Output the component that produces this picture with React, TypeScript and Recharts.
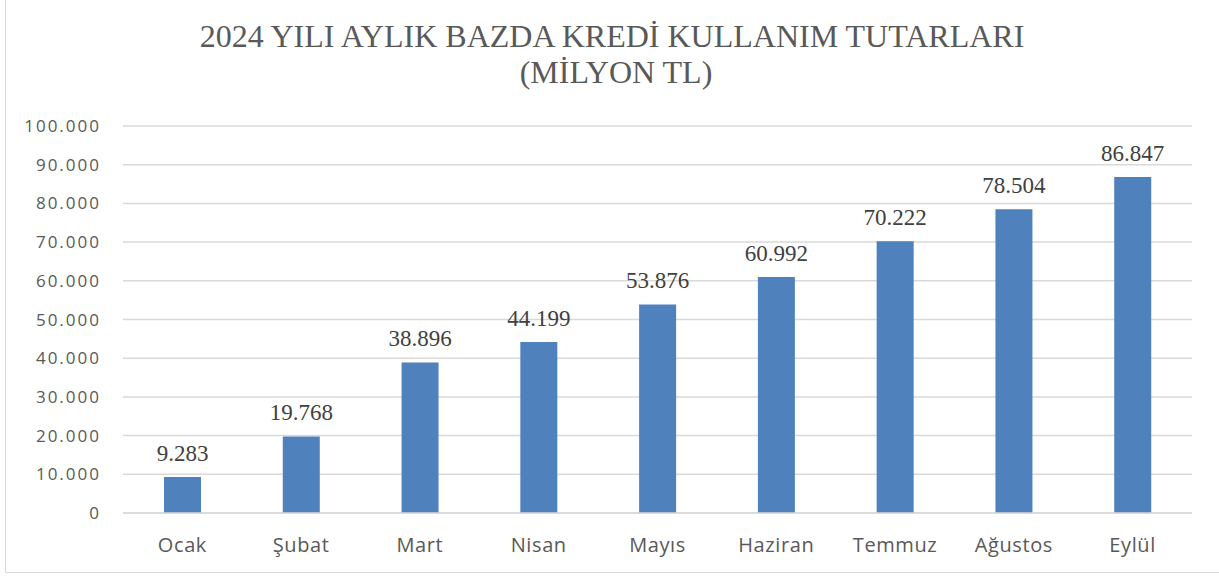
import { BarChart, Bar, XAxis, YAxis, CartesianGrid, LabelList } from 'recharts'

const months = ['Ocak', 'Şubat', 'Mart', 'Nisan', 'Mayıs', 'Haziran', 'Temmuz', 'Ağustos', 'Eylül']
const amounts = [9283, 19768, 38896, 44199, 53876, 60992, 70222, 78504, 86847]
const yTicks = [0, 10000, 20000, 30000, 40000, 50000, 60000, 70000, 80000, 90000, 100000]
const titleLines = ['2024 YILI AYLIK BAZDA KREDİ KULLANIM TUTARLARI', '(MİLYON TL)']

const data = months.map((m, i) => ({ month: m, value: amounts[i] }))

const fmt = (v: number) => String(v).replace(/\B(?=(\d{3})+(?!\d))/g, '.')

const sans = '"Open Sans", sans-serif'
const serif = '"Liberation Serif", "Times New Roman", serif'

function ValueLabel(props: any) {
  const { x, y, width, value } = props
  return (
    <text x={x + width / 2} y={y - 16} textAnchor="middle" fontFamily={serif} fontSize={23} fill="#404040">
      {fmt(value)}
    </text>
  )
}

export default function App() {
  return (
    <div style={{ position: 'absolute', left: 0, top: 0, width: 1219, height: 576, background: '#fff', overflow: 'hidden' }}>
      <div
        style={{
          position: 'absolute',
          left: 5,
          top: -2,
          width: 1222,
          height: 575,
          border: '1.5px solid #d9d9d9',
          boxSizing: 'border-box',
        }}
      />
      <svg width={1219} height={110} style={{ position: 'absolute', left: 0, top: 0 }}>
        <text x={612} y={47} textAnchor="middle" fontFamily={serif} fontSize={32} fill="#595959">
          {titleLines[0]}
        </text>
        <text x={616} y={83} textAnchor="middle" fontFamily={serif} fontSize={32} fill="#595959">
          {titleLines[1]}
        </text>
      </svg>
      <div style={{ position: 'absolute', left: 0, top: 0 }}>
        <BarChart width={1219} height={576} data={data} margin={{ top: 126, right: 27, left: 0, bottom: 33 }}>
          <CartesianGrid vertical={false} stroke="#d9d9d9" strokeWidth={1.5} />
          <XAxis
            dataKey="month"
            axisLine={{ stroke: '#d9d9d9', strokeWidth: 1.5 }}
            tickLine={false}
            height={30}
            tick={{ fontFamily: sans, fontSize: 20, fill: '#595959', letterSpacing: 0.6, dy: 17 }}
          />
          <YAxis
            width={123}
            domain={[0, 100000]}
            ticks={yTicks}
            axisLine={false}
            tickLine={false}
            tickFormatter={fmt}
            tickMargin={16}
            tick={{ fontFamily: sans, fontSize: 17, fill: '#595959', letterSpacing: 2 }}
          />
          <Bar dataKey="value" fill="#4f81bd" barSize={37} isAnimationActive={false}>
            <LabelList dataKey="value" content={ValueLabel} />
          </Bar>
        </BarChart>
      </div>
    </div>
  )
}
